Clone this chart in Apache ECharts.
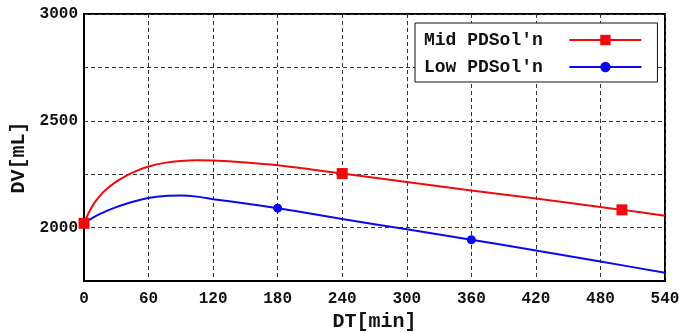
<!DOCTYPE html>
<html>
<head>
<meta charset="utf-8">
<script src="https://cdn.jsdelivr.net/npm/echarts@6/dist/echarts.min.js"></script>
<style>
html,body{margin:0;padding:0;background:#fff;}
#chart{width:679px;height:332px;}
</style>
</head>
<body>
<div id="chart"></div>
<script>
// ---- data ----
const seriesNames = ["Mid PDSol'n", "Low PDSol'n"];
const midTimes  = [0, 5, 10, 15, 20, 30, 40, 50, 60, 75, 90, 105, 120, 150, 180, 210, 240, 300, 360, 420, 480, 500, 540];
const midValues = [2020, 2075, 2118, 2150, 2176, 2215, 2245, 2268, 2286, 2303, 2312, 2315, 2314, 2305, 2292, 2273, 2253, 2213, 2174, 2136, 2096, 2083, 2056];
const lowTimes  = [0, 5, 10, 15, 20, 30, 40, 50, 60, 75, 90, 105, 120, 150, 180, 210, 240, 300, 360, 420, 480, 540];
const lowValues = [2020, 2036, 2051, 2064, 2076, 2096, 2113, 2127, 2139, 2148, 2150, 2145, 2133, 2113, 2091, 2066, 2040, 1992, 1943, 1893, 1841, 1789];
const midMarkerTimes = [0, 240, 500];
const lowMarkerTimes = [0, 180, 360];
const xTicks = [0, 60, 120, 180, 240, 300, 360, 420, 480, 540];
const yLabelValues = [2000, 2500, 3000];

function build(times, values, markers) {
  return times.map((t, i) => {
    const item = { value: [t, values[i]] };
    if (markers.indexOf(t) < 0) item.symbol = 'none';
    return item;
  });
}

const FONT = "'Liberation Mono', 'DejaVu Sans Mono', monospace";
const chart = echarts.init(document.getElementById('chart'), null, { renderer: 'canvas' });
chart.setOption({
  animation: false,
  backgroundColor: '#fff',
  grid: {
    left: 84, right: 14, top: 14, bottom: 51,
    outerBoundsMode: 'none', containLabel: false,
    show: true, borderColor: '#000', borderWidth: 2, backgroundColor: '#fff'
  },
  legend: {
    data: [seriesNames[0], seriesNames[1]],
    left: 415, top: 23,
    orient: 'vertical',
    align: 'right',
    backgroundColor: '#fff',
    borderColor: '#111',
    borderWidth: 1,
    borderRadius: 0,
    padding: [8, 15, 6, 9],
    itemWidth: 72,
    itemHeight: 13,
    itemGap: 9,
    formatter: n => n + '  ',
    textStyle: { fontFamily: FONT, fontWeight: 'bold', fontSize: 18, color: '#111' }
  },
  xAxis: {
    type: 'value', min: 0, max: 540, interval: 60,
    name: 'DT[min]', nameLocation: 'middle', nameGap: 30,
    nameTextStyle: { fontFamily: FONT, fontWeight: 'bold', fontSize: 20, color: '#111' },
    axisLine: { show: true, lineStyle: { color: '#000', width: 2 } },
    axisTick: { show: false },
    axisLabel: {
      margin: 10, fontFamily: FONT, fontWeight: 'bold', fontSize: 16, color: '#111',
      formatter: v => (xTicks.indexOf(v) >= 0 ? String(v) : '')
    },
    splitLine: { show: true, lineStyle: { color: '#333', width: 1, type: [4, 3] } }
  },
  yAxis: {
    type: 'value', min: 1750, max: 3000, interval: 250,
    name: 'DV[mL]', nameLocation: 'middle', nameGap: 51, nameRotate: 90,
    nameTextStyle: { fontFamily: FONT, fontWeight: 'bold', fontSize: 20, color: '#111', padding: [0, 0, 0, -20] },
    axisLine: { show: true, lineStyle: { color: '#000', width: 2 } },
    axisTick: { show: false },
    axisLabel: {
      margin: 6, fontFamily: FONT, fontWeight: 'bold', fontSize: 16, color: '#111',
      formatter: v => (yLabelValues.indexOf(v) >= 0 ? String(v) : '')
    },
    splitLine: { show: true, lineStyle: { color: '#333', width: 1, type: [4, 3] } }
  },
  series: [
    {
      name: seriesNames[1], type: 'line', z: 2,
      data: build(lowTimes, lowValues, lowMarkerTimes),
      smooth: 0.3, symbol: 'circle', symbolSize: 9, showSymbol: true,
      itemStyle: { color: '#0a0aee' },
      lineStyle: { color: '#0a0aee', width: 2 }
    },
    {
      name: seriesNames[0], type: 'line', z: 3,
      data: build(midTimes, midValues, midMarkerTimes),
      smooth: 0.3, symbol: 'rect', symbolSize: 11, showSymbol: true,
      itemStyle: { color: '#f00a0a' },
      lineStyle: { color: '#f00a0a', width: 2 }
    }
  ]
});
</script>
</body>
</html>
